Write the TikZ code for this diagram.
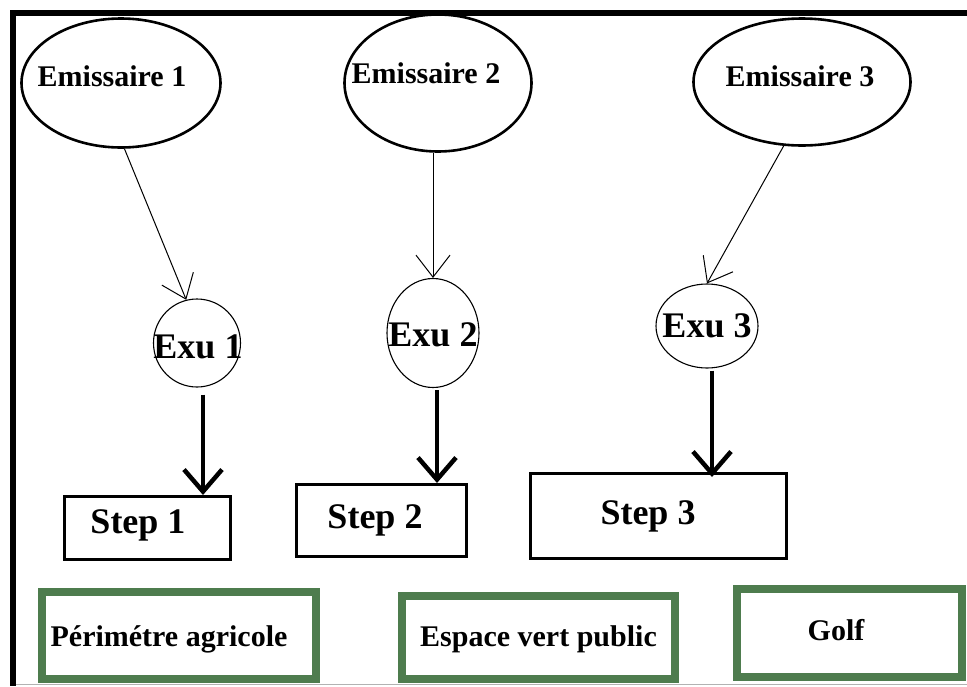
\documentclass[tikz,border=0pt]{standalone}
\usepackage{fontspec}
\setmainfont{Liberation Serif}
\usetikzlibrary{positioning, shapes.geometric, arrows.meta}
\definecolor{zonegreen}{RGB}{78,124,78}

\begin{document}
\begin{tikzpicture}[x=1pt, y=-1pt,
            emis/.style={ellipse, draw, line width=2.6pt, inner sep=0pt},
            exu/.style={ellipse, draw, line width=1.1pt, inner sep=0pt},
            stepbox/.style={rectangle, draw, line width=3pt, inner sep=0pt},
            zone/.style={rectangle, draw=zonegreen, line width=8pt, inner sep=0pt},
            emtxt/.style={font=\fontsize{30}{36}\selectfont\bfseries, inner sep=0pt},
            bigtxt/.style={font=\fontsize{36}{42}\selectfont\bfseries, inner sep=0pt},
            % 細い矢印 (émissaire -> exutoire)
            feed/.style={-{Straight Barb[length=22pt, width=34pt]}, line width=1pt},
            % 太い矢印 (exutoire -> step)
            flow/.style={-{Straight Barb[length=22pt, width=38pt]}, line width=4.5pt}
        ]
            \useasboundingbox (0,0) rectangle (967,686);

            % --- émissaires ---
            \node[emis, minimum width=199pt, minimum height=129pt,
                  label={[emtxt, xshift=-9pt, yshift=7pt]center:Emissaire 1}] (emA) at (121,83) {};
            \node[emis, minimum width=187pt, minimum height=137pt,
                  label={[emtxt, xshift=-12pt, yshift=10pt]center:Emissaire 2}] (emB) at (438,83) {};
            \node[emis, minimum width=217pt, minimum height=127pt,
                  label={[emtxt, xshift=-2pt, yshift=6pt]center:Emissaire 3}] (emC) at (802,82) {};

            % --- exutoires ---
            \node[exu, minimum width=87pt, minimum height=88pt,
                  label={[bigtxt, xshift=1pt, yshift=-4pt]center:Exu 1}] (exA) at (197,343) {};
            \node[exu, minimum width=92pt, minimum height=109pt,
                  label={[bigtxt, yshift=-2pt]center:Exu 2}] (exB) at (433,333) {};
            \node[exu, minimum width=102pt, minimum height=84pt,
                  label={[bigtxt]center:Exu 3}] (exC) at (707,326) {};

            % --- stations ---
            \node[stepbox, minimum width=166pt, minimum height=63pt,
                  label={[bigtxt, xshift=-9.5pt, yshift=3pt]center:Step 1}] (stA) at (147.5,528) {};
            \node[stepbox, minimum width=170pt, minimum height=72pt,
                  label={[bigtxt, xshift=-6.5pt]center:Step 2}] (stB) at (381.5,520.5) {};
            \node[stepbox, minimum width=256pt, minimum height=85pt,
                  label={[bigtxt, xshift=-10.5pt]center:Step 3}] (stC) at (658.5,516) {};

            % --- réutilisation ---
            \node[zone, minimum width=274pt, minimum height=87pt,
                  label={[emtxt, xshift=-10pt, yshift=-4pt]center:Périmétre agricole}] (zoA) at (179,635.5) {};
            \node[zone, minimum width=273pt, minimum height=83pt,
                  label={[emtxt, yshift=-2pt]center:Espace vert public}] (zoB) at (538.5,637.5) {};
            \node[zone, minimum width=225pt, minimum height=88pt,
                  label={[emtxt, xshift=-13.5pt, yshift=3pt]center:Golf}] (zoC) at (849.5,633) {};

            % --- liaisons ---
            \draw[feed] (emA.273) -- (exA.104);
            \draw[feed] (emB.south -| exB.north) -- (exB.north);
            \draw[feed] (emC.254) -- (exC.north);

            \draw[flow] ([xshift=6pt, yshift=-7pt]exA.south) -- ([xshift=6pt]exA.south |- stA.north);
            \draw[flow] ([xshift=4pt, yshift=-2pt]exB.south) -- ([xshift=4pt]exB.south |- stB.north);
            \draw[flow] ([xshift=5pt, yshift=-2pt]exC.south) -- ([xshift=5pt, yshift=-5pt]exC.south |- stC.north);

            % --- cadre ---
            \draw[line width=6pt] (10,13) -- (967,13);
            \draw[line width=6pt] (13,10) -- (13,686);
            \draw[gray!60, line width=1pt] (16,684.5) -- (967,684.5);
        \end{tikzpicture}
\end{document}
